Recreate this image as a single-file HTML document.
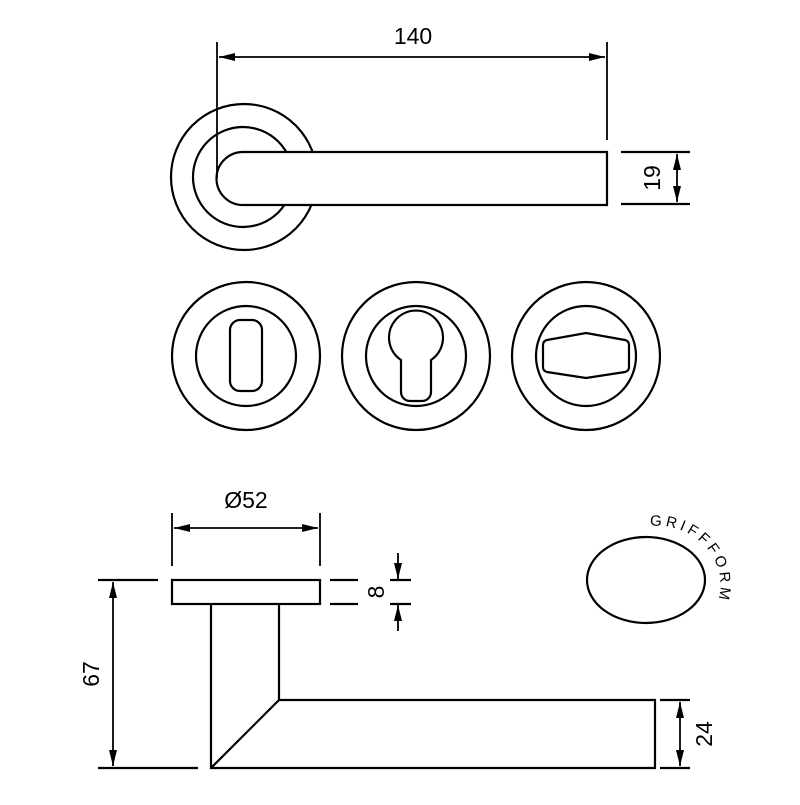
<!DOCTYPE html>
<html><head><style>html,body{margin:0;padding:0;background:#fff}</style></head>
<body>
<svg width="800" height="800" viewBox="0 0 800 800" xmlns="http://www.w3.org/2000/svg" font-family="Liberation Sans, sans-serif">
<defs>
<marker id="a" viewBox="0 0 16 8" refX="16" refY="4" markerWidth="16" markerHeight="8" markerUnits="userSpaceOnUse" orient="auto-start-reverse"><path d="M0,0L16,4L0,8z" fill="#000"/></marker>
</defs>
<g fill="none" stroke="#000" stroke-width="2.2">
<circle cx="244" cy="177" r="73"/>
<circle cx="243" cy="177" r="50"/>
<path d="M607,152 H243 A26.5,26.5 0 0 0 243,205 H607 Z" fill="#fff"/>
<line x1="217" y1="42" x2="217" y2="178" stroke-width="1.8"/>
<line x1="607" y1="42" x2="607" y2="140" stroke-width="1.8"/>
<line x1="219" y1="57" x2="605" y2="57" stroke-width="1.8" marker-start="url(#a)" marker-end="url(#a)"/>
<line x1="621" y1="152" x2="690" y2="152"/>
<line x1="621" y1="204" x2="690" y2="204"/>
<line x1="677" y1="154" x2="677" y2="202" stroke-width="1.8" marker-start="url(#a)" marker-end="url(#a)"/>
<circle cx="246" cy="356" r="74"/><circle cx="246" cy="356" r="50"/>
<rect x="230" y="320" width="32" height="71" rx="10"/>
<circle cx="416" cy="356" r="74"/><circle cx="416" cy="356" r="50"/>
<path d="M401,360 A27,27 0 1 1 431,360 V392 A9,9 0 0 1 422,401 H410 A9,9 0 0 1 401,392 Z"/>
<circle cx="586" cy="356" r="74"/><circle cx="586" cy="356" r="50"/>
<path d="M547,340 L586,333 L625,340 Q629,341 629,345 V367 Q629,371 625,372 L586,378 L547,372 Q543,371 543,367 V345 Q543,341 547,340 Z"/>
<rect x="172" y="580" width="148" height="24"/>
<path d="M211,604 V768 H655 V700 H279 V604"/>
<line x1="211" y1="768" x2="279" y2="700"/>
<line x1="172" y1="513" x2="172" y2="566" stroke-width="1.8"/>
<line x1="320" y1="513" x2="320" y2="566" stroke-width="1.8"/>
<line x1="174" y1="528" x2="318" y2="528" stroke-width="1.8" marker-start="url(#a)" marker-end="url(#a)"/>
<line x1="330" y1="580" x2="358" y2="580"/><line x1="330" y1="604" x2="358" y2="604"/>
<line x1="390" y1="580" x2="411" y2="580"/><line x1="390" y1="604" x2="411" y2="604"/>
<line x1="398" y1="553" x2="398" y2="579" stroke-width="1.8" marker-end="url(#a)"/>
<line x1="398" y1="631" x2="398" y2="605" stroke-width="1.8" marker-end="url(#a)"/>
<line x1="98" y1="580" x2="158" y2="580"/>
<line x1="98" y1="768" x2="198" y2="768"/>
<line x1="113" y1="582" x2="113" y2="766" stroke-width="1.8" marker-start="url(#a)" marker-end="url(#a)"/>
<line x1="660" y1="700" x2="690" y2="700"/>
<line x1="660" y1="768" x2="690" y2="768"/>
<line x1="680" y1="702" x2="680" y2="766" stroke-width="1.8" marker-start="url(#a)" marker-end="url(#a)"/>
<ellipse cx="646" cy="580" rx="59" ry="43"/>
<path id="arc" d="M650,526 A64,59 0 0 1 706,622" stroke="none"/>
</g>
<g font-size="23" fill="#000" text-anchor="middle">
<text x="413" y="44">140</text>
<text transform="translate(660,178) rotate(-90)">19</text>
<text x="246" y="508">Ø52</text>
<text transform="translate(384,592) rotate(-90)">8</text>
<text transform="translate(99,674) rotate(-90)">67</text>
<text transform="translate(712,734) rotate(-90)">24</text>
</g>
<text font-size="15" letter-spacing="3.5" fill="#000"><textPath href="#arc">GRIFFFORM</textPath></text>
</svg>
</body></html>
